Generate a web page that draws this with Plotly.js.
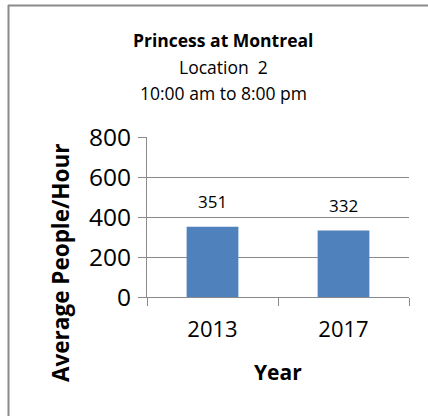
<!DOCTYPE html>
<html>
<head>
<meta charset="utf-8">
<script src="https://cdn.plot.ly/plotly-3.0.1.min.js"></script>
<style>html,body{margin:0;padding:0;background:#fff;}#chart{width:428px;height:416px;}</style>
</head>
<body>
<div id="chart"></div>
<script>
const years = ["2013", "2017"];
const peoplePerHour = [351, 332];
const yTicks = [0, 200, 400, 600, 800];
const titleLines = ["<b>Princess at Montreal</b>", "Location  2", "10:00 am to 8:00 pm"];

const FONT = "'Open Sans', sans-serif";
const GRAY = "#8a8a8a";

const L = 147, R = 19, T = 137, B = 119, W = 428, H = 416;
const pw = W - L - R, ph = H - T - B;
const px2x = p => (p - L) / pw;
const py2y = p => (H - B - p) / ph;

const trace = {
  type: "bar",
  x: years,
  y: peoplePerHour,
  marker: {color: "#4F81BD"},
  width: 0.395,
  hoverinfo: "skip"
};

const labels = years.map((yr, i) => ({
  x: i, y: peoplePerHour[i], xref: "x", yref: "y",
  text: String(peoplePerHour[i]), showarrow: false,
  yanchor: "bottom", yshift: 12,
  font: {family: FONT, size: 17, color: "#000"}
}));

const titleY = [40, 67, 92.5];
const titleAnn = titleLines.map((t, i) => ({
  text: t, showarrow: false, xref: "paper", yref: "paper",
  x: px2x(223), y: py2y(titleY[i]), xanchor: "center", yanchor: "middle",
  font: {family: FONT, size: 17.5, color: "#000"}
}));

const layout = {
  width: W, height: H,
  margin: {l: L, r: R, t: T, b: B, pad: 0},
  paper_bgcolor: "#fff", plot_bgcolor: "#fff",
  showlegend: false,
  xaxis: {
    type: "category",
    range: [-0.5, 1.5],
    tickfont: {family: FONT, size: 22, color: "#000"},
    ticklabelstandoff: 13,
    showline: true, linecolor: GRAY, linewidth: 1,
    ticks: "outside", tickson: "boundaries", ticklen: 8, tickcolor: GRAY,
    showgrid: false, fixedrange: true
  },
  yaxis: {
    range: [0, 800],
    tickvals: yTicks,
    ticktext: yTicks.map(String),
    tickfont: {family: FONT, size: 24.5, color: "#000"},
    ticklabelstandoff: 2,
    showline: true, linecolor: GRAY, linewidth: 1,
    ticks: "outside", ticklen: 8, tickcolor: GRAY,
    showgrid: true, gridcolor: GRAY, gridwidth: 1,
    zeroline: false, fixedrange: true
  },
  annotations: labels.concat(titleAnn, [{
    text: "<b>Average People/Hour</b>",
    textangle: -90, showarrow: false,
    xref: "paper", yref: "paper",
    x: px2x(60), y: py2y(263),
    xanchor: "center", yanchor: "middle",
    font: {family: FONT, size: 22.5, color: "#000"}
  }, {
    text: "<b>Year</b>", showarrow: false,
    xref: "paper", yref: "paper",
    x: px2x(278), y: py2y(372),
    xanchor: "center", yanchor: "middle",
    font: {family: FONT, size: 21, color: "#000"}
  }]),
  shapes: [
    {type: "line", xref: "paper", yref: "paper", x0: px2x(8.5), x1: px2x(8.5), y0: py2y(5), y1: py2y(430), line: {color: GRAY, width: 2}},
    {type: "line", xref: "paper", yref: "paper", x0: px2x(8), x1: px2x(440), y0: py2y(5.5), y1: py2y(5.5), line: {color: GRAY, width: 2}}
  ]
};

Plotly.newPlot("chart", [trace], layout, {staticPlot: true, displayModeBar: false});
</script>
</body>
</html>
